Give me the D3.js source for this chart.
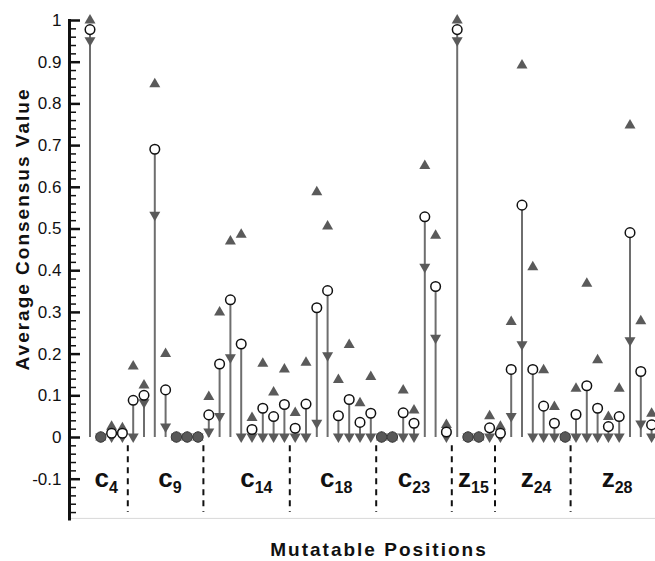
<!DOCTYPE html>
<html>
<head>
<meta charset="utf-8">
<script src="https://d3js.org/d3.v7.min.js"></script>
<style>
  body { margin: 0; background: #fff; }
  svg { display: block; font-family: "Liberation Sans", Arial, Helvetica, sans-serif; }
</style>
</head>
<body>
<div id="chart"></div>
<script>
////////////////////////////////////////////////////////////
/////////////////////// data ///////////////////////////////
////////////////////////////////////////////////////////////
// one entry per mutatable position
var meanVals = [0.977, 0, 0.009, 0.009,
  0.088, 0.10, 0.69, 0.113, 0, 0, 0,
  0.053, 0.175, 0.329, 0.223, 0.018, 0.069, 0.049, 0.078,
  0.021, 0.079, 0.31, 0.351, 0.051, 0.09, 0.035, 0.057,
  0, 0, 0.058, 0.033, 0.528, 0.361, 0.012,
  0.977, 0, 0, 0.022,
  0.009, 0.162, 0.556, 0.162, 0.074, 0.033, 0,
  0.054, 0.123, 0.069, 0.025, 0.049, 0.49, 0.157, 0.029];
var maxVals = [1.0, 0, 0.026, 0.022,
  0.17, 0.125, 0.847, 0.2, 0, 0, 0,
  0.097, 0.30, 0.47, 0.486, 0.047, 0.177, 0.108, 0.163,
  0.059, 0.179, 0.588, 0.506, 0.138, 0.222, 0.082, 0.145,
  0, 0, 0.113, 0.065, 0.651, 0.484, 0.03,
  1.0, 0, 0, 0.051,
  0.026, 0.277, 0.892, 0.408, 0.161, 0.073, 0,
  0.117, 0.369, 0.185, 0.049, 0.117, 0.748, 0.279, 0.057];
var minVals = [0.95, 0, 0, 0,
  0, 0.082, 0.532, 0.024, 0, 0, 0,
  0.012, 0.049, 0.19, 0, 0, 0, 0, 0,
  0, 0, 0.033, 0.195, 0, 0, 0, 0,
  0, 0, 0, 0, 0.407, 0.237, 0,
  0.95, 0, 0, 0,
  0, 0.049, 0.221, 0, 0, 0, 0,
  0, 0, 0, 0, 0, 0.231, 0.031, 0];

// groups of positions
var groupLetters = ["c", "c", "c", "c", "c", "z", "z", "z"];
var groupSubs = ["4", "9", "14", "18", "23", "15", "24", "28"];
var groupStart = [0, 4, 11, 19, 27, 34, 38, 45];
var labelPos = [1.5, 7.4, 15.4, 22.8, 30.0, 35.5, 41.3, 48.8];

var majorTicks = [-0.1, 0, 0.1, 0.2, 0.3, 0.4, 0.5, 0.6, 0.7, 0.8, 0.9, 1];

////////////////////////////////////////////////////////////
/////////////////////// layout /////////////////////////////
////////////////////////////////////////////////////////////
var wdim = 655, hdim = 561;
var axisX = 69.5;
var lineColor = "#6e6e6e", triColor = "#5a5a5a";

var svg = d3.select("#chart").append("svg")
  .attr("width", wdim)
  .attr("height", hdim);

var x = d3.scaleLinear().domain([0, 52]).range([90, 651.6]);
var y = d3.scaleLinear().domain([-0.2, 1]).range([520.4, 20]);

var pts = meanVals.map(function(d, i) {
  return {i: i, mean: d, max: maxVals[i], min: minVals[i], zero: maxVals[i] === 0};
});

// faint bottom frame line
svg.append("line")
  .attr("x1", axisX).attr("x2", wdim)
  .attr("y1", y(-0.2) - 2).attr("y2", y(-0.2) - 2)
  .attr("stroke", "#d8d8d8").attr("stroke-width", 1);

////////////////////////////////////////////////////////////
/////////////////////// y axis /////////////////////////////
////////////////////////////////////////////////////////////
var minorTicks = d3.range(-9, 51).map(function(k) { return k * 0.02; })
  .filter(function(v) { return Math.abs(Math.round(v * 10) - v * 10) > 1e-6; });

var minorAxis = svg.append("g")
  .attr("transform", "translate(" + axisX + ",0)")
  .call(d3.axisLeft(y).tickValues(minorTicks).tickSize(-6.5).tickSizeOuter(0).tickFormat(""));
minorAxis.select(".domain").remove();
minorAxis.selectAll("line").attr("stroke", "#111").attr("stroke-width", 1.5);

var majorAxis = svg.append("g")
  .attr("transform", "translate(" + axisX + ",0)")
  .call(d3.axisLeft(y).tickValues(majorTicks).tickSize(-10.5).tickSizeOuter(0).tickPadding(8)
    .tickFormat(function(d) { return String(+d.toFixed(1)); }));
majorAxis.select(".domain").attr("stroke", "#111").attr("stroke-width", 3)
  .attr("d", "M0," + y(-0.2) + "V" + (y(1) - 1));
majorAxis.selectAll("line").attr("stroke", "#111").attr("stroke-width", 2.5);
majorAxis.selectAll("text")
  .attr("font-size", "17px")
  .attr("font-family", "Liberation Sans, Arial, sans-serif")
  .attr("fill", "#111");

////////////////////////////////////////////////////////////
/////////////////////// group separators & labels //////////
////////////////////////////////////////////////////////////
svg.selectAll("line.sep")
  .data(groupStart.slice(1))
  .enter().append("line")
  .attr("class", "sep")
  .attr("x1", function(d) { return x(d - 0.5); })
  .attr("x2", function(d) { return x(d - 0.5); })
  .attr("y1", y(-0.02)).attr("y2", y(-0.18))
  .attr("stroke", "#111").attr("stroke-width", 2)
  .attr("stroke-dasharray", "6,5");

var glab = svg.selectAll("text.glab")
  .data(groupLetters)
  .enter().append("text")
  .attr("class", "glab")
  .attr("x", function(d, i) { return x(labelPos[i]); })
  .attr("y", 487)
  .attr("text-anchor", "middle")
  .attr("font-weight", "bold")
  .attr("fill", "#111");
glab.append("tspan").attr("font-size", "26px").text(function(d) { return d; });
glab.append("tspan").attr("font-size", "16px").attr("dy", 6)
  .text(function(d, i) { return groupSubs[i]; });

////////////////////////////////////////////////////////////
/////////////////////// marks //////////////////////////////
////////////////////////////////////////////////////////////
function upTri(cx, cy) {
  return "M" + cx + "," + (cy - 6) + "L" + (cx + 5.5) + "," + (cy + 3.5) + "L" + (cx - 5.5) + "," + (cy + 3.5) + "Z";
}
function downTri(cx, cy) {
  return "M" + cx + "," + (cy + 6) + "L" + (cx + 5.5) + "," + (cy - 3.5) + "L" + (cx - 5.5) + "," + (cy - 3.5) + "Z";
}

var live = pts.filter(function(d) { return !d.zero; });

// stems from mean down to zero
svg.selectAll("line.stem")
  .data(live)
  .enter().append("line")
  .attr("class", "stem")
  .attr("x1", function(d) { return x(d.i); })
  .attr("x2", function(d) { return x(d.i); })
  .attr("y1", function(d) { return y(d.mean); })
  .attr("y2", y(0))
  .attr("stroke", lineColor).attr("stroke-width", 2);

svg.selectAll("path.maxTri")
  .data(pts)
  .enter().append("path")
  .attr("class", "maxTri")
  .attr("d", function(d) { return upTri(x(d.i), y(d.max)); })
  .attr("fill", triColor);

svg.selectAll("path.minTri")
  .data(pts)
  .enter().append("path")
  .attr("class", "minTri")
  .attr("d", function(d) { return downTri(x(d.i), y(d.min)); })
  .attr("fill", triColor);

// all-zero positions
svg.selectAll("circle.zero")
  .data(pts.filter(function(d) { return d.zero; }))
  .enter().append("circle")
  .attr("class", "zero")
  .attr("cx", function(d) { return x(d.i); })
  .attr("cy", y(0))
  .attr("r", 5.2)
  .attr("fill", "#585858")
  .attr("stroke", "#3a3a3a").attr("stroke-width", 1);

svg.selectAll("circle.mean")
  .data(live)
  .enter().append("circle")
  .attr("class", "mean")
  .attr("cx", function(d) { return x(d.i); })
  .attr("cy", function(d) { return y(d.mean); })
  .attr("r", 4.8)
  .attr("fill", "#fff")
  .attr("stroke", "#111").attr("stroke-width", 1.5);

////////////////////////////////////////////////////////////
/////////////////////// titles /////////////////////////////
////////////////////////////////////////////////////////////
svg.append("text")
  .attr("transform", "translate(29,229) rotate(-90)")
  .attr("text-anchor", "middle")
  .attr("font-size", "19px")
  .attr("font-weight", "bold")
  .attr("letter-spacing", "2px")
  .attr("fill", "#111")
  .text("Average Consensus Value");

svg.append("text")
  .attr("x", 379).attr("y", 556)
  .attr("text-anchor", "middle")
  .attr("font-size", "19px")
  .attr("font-weight", "bold")
  .attr("letter-spacing", "2px")
  .attr("fill", "#111")
  .text("Mutatable Positions");
</script>
</body>
</html>
